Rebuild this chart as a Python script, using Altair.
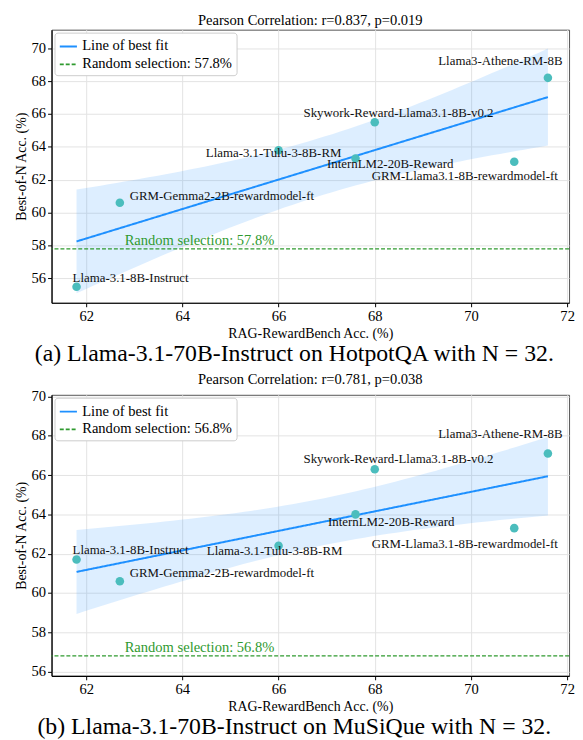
import altair as alt
import numpy as np
import pandas as pd

# ---------------- data ----------------
models = [
    "Llama-3.1-8B-Instruct",
    "GRM-Gemma2-2B-rewardmodel-ft",
    "Llama-3.1-Tulu-3-8B-RM",
    "InternLM2-20B-Reward",
    "Skywork-Reward-Llama3.1-8B-v0.2",
    "GRM-Llama3.1-8B-rewardmodel-ft",
    "Llama3-Athene-RM-8B",
]
rag_acc = [61.8, 62.7, 66.0, 67.6, 68.0, 70.9, 71.6]
hotpot_bon = [55.5, 60.6, 63.8, 63.3, 65.5, 63.1, 68.2]
musique_bon = [61.7, 60.6, 62.4, 64.0, 66.3, 63.3, 67.1]
hotpot_random = 57.8
musique_random = 56.8
hotpot_stats = "Pearson Correlation: r=0.837, p=0.019"
musique_stats = "Pearson Correlation: r=0.781, p=0.038"
captions = [
    "(a) Llama-3.1-70B-Instruct on HotpotQA with N = 32.",
    "(b) Llama-3.1-70B-Instruct on MuSiQue with N = 32.",
]
x_ticks = [62, 64, 66, 68, 70, 72]
y_ticks = [56, 58, 60, 62, 64, 66, 68, 70]

# ---------------- style ----------------
FONT = "Liberation Serif, Times New Roman, Tinos, Times, serif"
BLUE = "#1E90FF"
GREEN = "#2f9a2f"
TEAL = "#4bbdbd"
FIT_LABEL = "Line of best fit"

# label placement (align, dx, dy) per model, per panel
offsets_a = [("left", -4, -9), ("left", 10, -7), ("center", -5, 3), ("center", 35, 6),
             ("center", 24, -9), ("center", -50, 14), ("center", -48, -17)]
offsets_b = [("left", -4, -10), ("left", 10, -8), ("center", -4, 5), ("center", 36, 8),
             ("center", 24, -10), ("center", -50, 16), ("center", -48, -20)]


def panel(bon, rand, stats, caption, offsets, ydomain, height):
    rand_label = f"Random selection: {rand}%"
    df = pd.DataFrame({"model": models, "x": rag_acc, "y": bon})

    xs = np.array(rag_acc, dtype=float)
    ys = np.array(bon, dtype=float)
    n = len(xs)
    slope, icpt = np.polyfit(xs, ys, 1)
    resid = ys - (slope * xs + icpt)
    s = np.sqrt((resid ** 2).sum() / (n - 2))
    sxx = ((xs - xs.mean()) ** 2).sum()
    grid = np.linspace(xs.min(), xs.max(), 60)
    fit = slope * grid + icpt
    se = s * np.sqrt(1.0 / n + (grid - xs.mean()) ** 2 / sxx)
    band = pd.DataFrame({"x": grid, "fit": fit, "lo": fit - 1.96 * se,
                         "hi": fit + 1.96 * se, "series": FIT_LABEL})
    rdf = pd.DataFrame({"y": [rand], "series": [rand_label]})

    xs_scale = alt.Scale(domain=[61.28, 72.04], nice=False, zero=False)
    ys_scale = alt.Scale(domain=ydomain, nice=False, zero=False)
    xaxis = alt.Axis(values=x_ticks, title="RAG-RewardBench Acc. (%)")
    yaxis = alt.Axis(values=y_ticks, title="Best-of-N Acc. (%)", labelOverlap=False)
    xenc = alt.X("x:Q", scale=xs_scale, axis=xaxis)

    def yenc(field):
        return alt.Y(field, scale=ys_scale, axis=yaxis)

    color = alt.Color("series:N",
                      scale=alt.Scale(domain=[FIT_LABEL, rand_label], range=[BLUE, GREEN]),
                      legend=alt.Legend(title=None, orient="top-left", offset=3,
                                        fillColor="white", strokeColor="#cccccc",
                                        cornerRadius=3, padding=4, symbolType="stroke",
                                        symbolSize=300, symbolStrokeWidth=1.8,
                                        labelFont=FONT, labelFontSize=14.7, labelColor="black",
                                        labelLimit=0, rowPadding=1, symbolOffset=0))
    dash = alt.StrokeDash("series:N",
                          scale=alt.Scale(domain=[FIT_LABEL, rand_label], range=[[1, 0], [4, 2]]),
                          legend=None)

    area = alt.Chart(band).mark_area(color=BLUE, opacity=0.15).encode(
        x=xenc, y=yenc("lo:Q"), y2="hi:Q")
    line = alt.Chart(band).mark_line(strokeWidth=2).encode(
        x=xenc, y=yenc("fit:Q"), color=color, strokeDash=dash)
    rule = alt.Chart(rdf).mark_rule(strokeWidth=1.3).encode(
        y=yenc("y:Q"), color=color, strokeDash=dash)
    pts = alt.Chart(df).mark_circle(size=75, color=TEAL, opacity=1).encode(
        x=xenc, y=yenc("y:Q"))
    rtext = alt.Chart(rdf).mark_text(align="left", baseline="alphabetic", dy=-4,
                                     font=FONT, fontSize=14.7, color=GREEN).encode(
        x=alt.datum(float(xs.min()) + 1.0), y=yenc("y:Q"), text="series:N")

    labels = []
    for m, (al, dx, dy) in zip(models, offsets):
        labels.append(
            alt.Chart(df).transform_filter(alt.datum.model == m)
            .mark_text(align=al, baseline="middle", dx=dx, dy=dy, font=FONT,
                       fontSize=13, color="#111111")
            .encode(x=xenc, y=yenc("y:Q"), text="model:N"))

    layer = alt.layer(area, rule, line, pts, rtext, *labels).properties(
        width=523, height=height,
        title=alt.TitleParams(stats, font=FONT, fontSize=14.7, fontWeight="normal",
                              color="black", offset=2, anchor="middle"))
    return alt.vconcat(layer).properties(
        title=alt.TitleParams(caption, orient="bottom", font=FONT, fontSize=24,
                              fontWeight="normal", color="black", offset=2,
                              anchor="middle")
    ).resolve_scale(color="independent", strokeDash="independent")


pa = panel(hotpot_bon, hotpot_random, hotpot_stats, captions[0], offsets_a,
           [54.52, 71.13], 276)
pb = panel(musique_bon, musique_random, musique_stats, captions[1], offsets_b,
           [55.78, 70.09], 284)

chart = alt.vconcat(pa, pb, spacing=4).resolve_scale(
    color="independent", strokeDash="independent"
).properties(
    padding={"left": 5, "top": 0, "right": 0, "bottom": 0}
).configure_view(
    stroke="#555555", strokeWidth=1
).configure_axis(
    labelFont=FONT, labelFontSize=14.7, labelColor="black",
    titleFont=FONT, titleFontSize=14, titleFontWeight="normal", titleColor="black",
    gridColor="#e3e3e3", gridWidth=1, domainColor="black", domainWidth=1.2,
    tickColor="black", tickSize=4, labelPadding=2, titlePadding=3,
)

chart.save("out.html", embed_options={"renderer": "svg", "actions": False})
